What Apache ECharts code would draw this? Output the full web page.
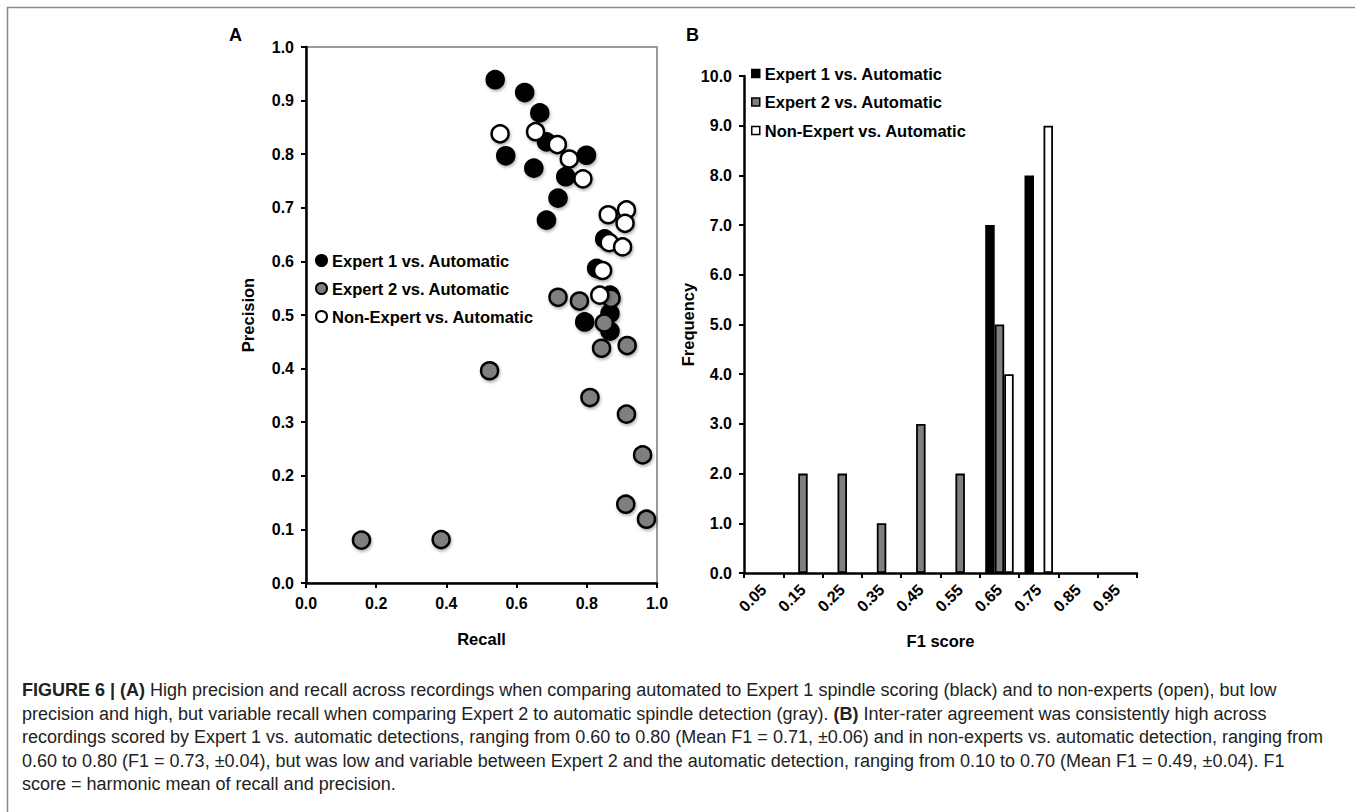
<!DOCTYPE html>
<html><head><meta charset="utf-8">
<script src="https://cdn.jsdelivr.net/npm/echarts@6/dist/echarts.min.js"></script>
<style>html,body{margin:0;padding:0;background:#fff}#c{width:1355px;height:812px}</style>
</head><body><div id="c"></div>
<script>
const FONT = '"Liberation Sans", Arial, Helvetica, sans-serif';

// ---- Panel A data: [recall, precision] ----
const expert1Points = [
  [0.539,0.939],[0.623,0.915],[0.666,0.877],[0.569,0.797],[0.685,0.823],
  [0.649,0.774],[0.799,0.798],[0.740,0.758],[0.718,0.718],[0.685,0.677],
  [0.851,0.642],[0.828,0.587],[0.866,0.537],[0.866,0.503],[0.794,0.487],[0.866,0.470]
];
const expert2Points = [
  [0.158,0.080],[0.385,0.081],[0.523,0.396],[0.809,0.346],[0.842,0.438],
  [0.850,0.485],[0.718,0.533],[0.779,0.526],[0.869,0.531],[0.915,0.443],
  [0.913,0.315],[0.959,0.239],[0.911,0.147],[0.970,0.119]
];
const nonExpertPoints = [
  [0.553,0.838],[0.654,0.842],[0.716,0.818],[0.750,0.791],[0.789,0.754],
  [0.861,0.687],[0.913,0.696],[0.909,0.671],[0.864,0.635],[0.902,0.627],
  [0.845,0.583],[0.837,0.537]
];
const seriesNames = ['Expert 1 vs. Automatic','Expert 2 vs. Automatic','Non-Expert vs. Automatic'];

// ---- Panel B data ----
const f1Bins = ['0.05','0.15','0.25','0.35','0.45','0.55','0.65','0.75','0.85','0.95'];
const expert1Freq   = [0,0,0,0,0,0,7,8,0,0];
const expert2Freq   = [0,2,2,1,3,2,5,0,0,0];
const nonExpertFreq = [0,0,0,0,0,0,4,9,0,0];

const captionLines = [
  '{b|FIGURE 6 | (A)} High precision and recall across recordings when comparing automated to Expert 1 spindle scoring (black) and to non-experts (open), but low',
  'precision and high, but variable recall when comparing Expert 2 to automatic spindle detection (gray). {b|(B)} Inter-rater agreement was consistently high across',
  'recordings scored by Expert 1 vs. automatic detections, ranging from 0.60 to 0.80 (Mean F1 = 0.71, \u00b10.06) and in non-experts vs. automatic detection, ranging from',
  '0.60 to 0.80 (F1 = 0.73, \u00b10.04), but was low and variable between Expert 2 and the automatic detection, ranging from 0.10 to 0.70 (Mean F1 = 0.49, \u00b10.04). F1',
  'score = harmonic mean of recall and precision.'
];

const fills = ['#000000','#7f7f7f','#ffffff'];
const lbl = {color:'#000', fontFamily:FONT, fontWeight:'bold', fontSize:16};
const nameLbl = {color:'#000', fontFamily:FONT, fontWeight:'bold', fontSize:16.5};
const legLbl = {color:'#000', fontFamily:FONT, fontWeight:'bold', fontSize:16.5};
const axLine = {show:true, lineStyle:{color:'#000', width:2.5}};
const axTick = {show:true, inside:false, length:5, lineStyle:{color:'#000', width:2}};

const chart = echarts.init(document.getElementById('c'), null, {renderer:'svg'});

const scatterSeries = [expert1Points, expert2Points, nonExpertPoints].map((d,i)=>({
  type:'scatter', name:seriesNames[i], xAxisIndex:0, yAxisIndex:0, data:d,
  symbol:'circle', symbolSize:17, silent:true,
  itemStyle:{color:fills[i], opacity:1, borderColor:'#000', borderWidth:2.5,
    shadowColor:'rgba(0,0,0,0.3)', shadowBlur:3, shadowOffsetX:1, shadowOffsetY:2}
}));
const barSeries = [expert1Freq, expert2Freq, nonExpertFreq].map((d,i)=>({
  type:'bar', name:seriesNames[i], xAxisIndex:1, yAxisIndex:1,
  data:d.map(v=>v===0?'-':v), barWidth:9.5, barGap:'0%', silent:true,
  itemStyle:{color:fills[i], opacity:1, borderColor:'#000', borderWidth:1.8}
}));

const captionGraphics = captionLines.map((t,i)=>({
  type:'text', left:22, top:681 + i*23.5, silent:true,
  style:{text:t, fill:'#222', font:'18px '+FONT,
    rich:{b:{fontWeight:'bold', fontSize:18, fontFamily:FONT, fill:'#222'}}}
}));

chart.setOption({
  animation:false,
  backgroundColor:'#fff',
  textStyle:{fontFamily:FONT},
  grid:[
    {left:306, top:47, width:351, height:536, show:true, borderColor:'#9a9a9a', borderWidth:2, containLabel:false},
    {left:744, top:76, width:393, height:497, show:false, containLabel:false}
  ],
  xAxis:[
    {type:'value', gridIndex:0, min:0, max:1, interval:0.2, splitLine:{show:false},
     axisLine:axLine, axisTick:axTick, axisLabel:Object.assign({margin:12, formatter:v=>v.toFixed(1)}, lbl),
     name:'Recall', nameLocation:'middle', nameGap:47, nameTextStyle:nameLbl},
    {type:'category', gridIndex:1, data:f1Bins, splitLine:{show:false},
     axisLine:axLine, axisTick:Object.assign({}, axTick, {alignWithLabel:false, interval:0}),
     axisLabel:Object.assign({margin:14, rotate:45, interval:0}, lbl),
     name:'F1 score', nameLocation:'middle', nameGap:59, nameTextStyle:nameLbl}
  ],
  yAxis:[
    {type:'value', gridIndex:0, min:0, max:1, interval:0.1, splitLine:{show:false},
     axisLine:axLine, axisTick:axTick, axisLabel:Object.assign({margin:12, formatter:v=>v.toFixed(1)}, lbl),
     name:'Precision', nameLocation:'middle', nameGap:50, nameRotate:90, nameTextStyle:nameLbl},
    {type:'value', gridIndex:1, min:0, max:10, interval:1, splitLine:{show:false},
     axisLine:axLine, axisTick:axTick, axisLabel:Object.assign({margin:12, formatter:v=>v.toFixed(1)}, lbl),
     name:'Frequency', nameLocation:'middle', nameGap:45, nameRotate:90, nameTextStyle:nameLbl}
  ],
  legend:[
    {orient:'vertical', left:315, top:252, itemWidth:11, itemHeight:11, itemGap:11,
     selectedMode:false, textStyle:legLbl, padding:0,
     data:seriesNames.map((n,i)=>({name:n, icon:'circle',
       itemStyle:{color:fills[i], opacity:1, borderColor:'#000', borderWidth:2, shadowBlur:0}}))},
    {orient:'vertical', left:751, top:65, itemWidth:8, itemHeight:8, itemGap:11.5,
     selectedMode:false, textStyle:legLbl, padding:0,
     data:seriesNames.map((n,i)=>({name:n, icon:'rect',
       itemStyle:{color:fills[i], opacity:1, borderColor:'#000', borderWidth:1.5, shadowBlur:0}}))}
  ],
  graphic:[
    {type:'rect', silent:true, shape:{x:7.5, y:7.5, width:1400, height:900},
     style:{fill:'none', stroke:'#8a8a8a', lineWidth:1.5}},
    {type:'text', left:229, top:26, silent:true, style:{text:'A', font:'bold 18px '+FONT, fill:'#000'}},
    {type:'text', left:686, top:26, silent:true, style:{text:'B', font:'bold 18px '+FONT, fill:'#000'}}
  ].concat(captionGraphics),
  series:scatterSeries.concat(barSeries)
});
</script></body></html>
